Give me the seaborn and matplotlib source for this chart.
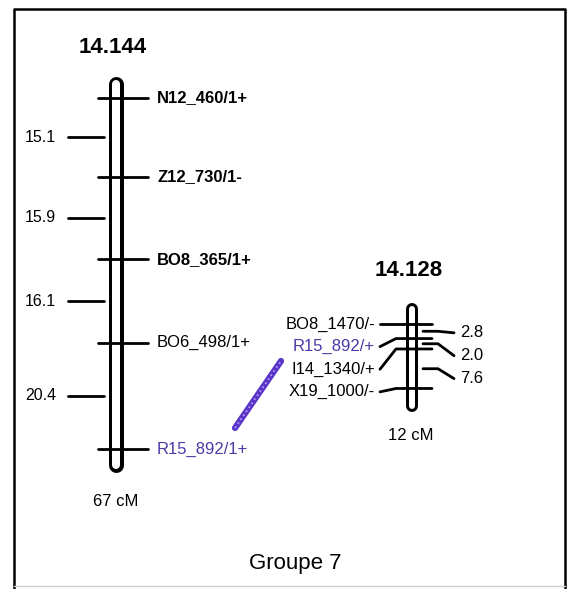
import numpy as np
import pandas as pd
import matplotlib.pyplot as plt
import seaborn as sns

# linkage group 7: two maps, marker names and interval distances (cM)
left_name = "14.144"
left_markers = ["N12_460/1+", "Z12_730/1-", "BO8_365/1+", "BO6_498/1+", "R15_892/1+"]
left_bold = [True, True, True, False, False]
left_intervals = [15.1, 15.9, 16.1, 20.4]
left_total = "67 cM"

right_name = "14.128"
right_markers = ["BO8_1470/-", "R15_892/+", "I14_1340/+", "X19_1000/-"]
right_intervals = [2.8, 2.0, 7.6]
right_total = "12 cM"

group_label = "Groupe 7"
shared = "R15_892"

PURPLE = "#4a3aa6"
PX = 5.2          # pixels per cM
Y0 = 98           # pixel row of first marker on left map
RIGHT_OFFSET = (324 - Y0) / PX


def py(p):
    # pixel row -> axis units (cM)
    return (p - Y0) / PX


def spread(vals, gap):
    out = []
    for v in vals:
        out.append(max(v, out[-1] + gap) if out else v)
    return np.array(out)


sns.set_style("white")
plt.rcParams['font.family'] = ['Liberation Sans', 'DejaVu Sans']
plt.rcParams['text.color'] = 'black'

fig = plt.figure(figsize=(5.68, 5.89), dpi=100)
ax = fig.add_axes([0, 0, 1, 1])

left_pos = np.concatenate([[0], np.cumsum(left_intervals)])
right_pos = RIGHT_OFFSET + np.concatenate([[0], np.cumsum(right_intervals)])
left_mid = (left_pos[:-1] + left_pos[1:]) / 2
right_mid = (right_pos[:-1] + right_pos[1:]) / 2


def rod(x, top, bot, w_out, w_in, ext_top, ext_bot):
    pt = 72 / 100
    t = top - (ext_top - w_out / 2) / PX
    b = bot + (ext_bot - w_out / 2) / PX
    ax.plot([x, x], [t, b], color='black', lw=w_out * pt, solid_capstyle='round', zorder=2)
    ax.plot([x, x], [t, b], color='white', lw=w_in * pt, solid_capstyle='round', zorder=3)


rod(115.5, left_pos[0], left_pos[-1], 15, 8, 22, 23)
rod(411.5, right_pos[0], right_pos[-1], 12, 6, 21, 24)

# all tick segments as one long table, drawn by seaborn
rows = []
seg = 0
for p in left_pos:
    rows += [(98, p, seg), (148, p, seg)]
    seg += 1
for m in left_mid:
    rows += [(68, m, seg), (104, m, seg)]
    seg += 1
lab_r = spread(right_pos, 4.35)
for p, lab in zip(right_pos, lab_r):
    rows += [(380, lab, seg), (396, p, seg), (432, p, seg)]
    seg += 1
lab_d = spread(right_mid, 4.4) + 0.3
for m, lab in zip(right_mid, lab_d):
    rows += [(423, m, seg), (438, m, seg), (454, lab, seg)]
    seg += 1
segs = pd.DataFrame(rows, columns=["x", "y", "seg"])
sns.lineplot(data=segs, x="x", y="y", units="seg", estimator=None, sort=False,
             color='black', lw=2, ax=ax, zorder=4, legend=False)
ax.set_xlim(0, 568)
ax.set_ylim(py(589), py(0))
ax.axis('off')

# labels
for name, p, b in zip(left_markers, left_pos, left_bold):
    ax.text(157, p, name, ha='left', va='center', fontsize=12,
            fontweight='bold' if b else 'normal',
            color=PURPLE if name.startswith(shared) else 'black')
for v, m in zip(left_intervals, left_mid):
    ax.text(56, m, f"{v}", ha='right', va='center', fontsize=11.5)
for name, lab in zip(right_markers, lab_r):
    ax.text(375, lab, name, ha='right', va='center', fontsize=12,
            color=PURPLE if name.startswith(shared) else 'black')
for v, lab in zip(right_intervals, lab_d):
    ax.text(460, lab, f"{v}", ha='left', va='center', fontsize=12)

ax.text(113, py(47), left_name, ha='center', va='center', fontsize=16, fontweight='bold')
ax.text(116, py(502), left_total, ha='center', va='center', fontsize=12)
ax.text(409, py(271), right_name, ha='center', va='center', fontsize=16, fontweight='bold')
ax.text(411, py(435), right_total, ha='center', va='center', fontsize=12)
ax.text(295, py(563), group_label, ha='center', va='center', fontsize=16)

# shared marker link
ax.plot([235, 281], [py(428), py(361)], color='#5a34c8', lw=4.5, solid_capstyle='round', zorder=5)
ax.plot([235, 281], [py(428), py(361)], color='#a890f0', lw=1.4, ls=(0, (1, 1.5)), zorder=6)

# frame
ax.plot([14, 14, 565, 565], [py(589), py(9), py(9), py(589)], color='black', lw=1.8)
ax.plot([14, 565], [py(586), py(586)], color='#d0d0d0', lw=1)

fig.savefig("out.png", dpi=100)
